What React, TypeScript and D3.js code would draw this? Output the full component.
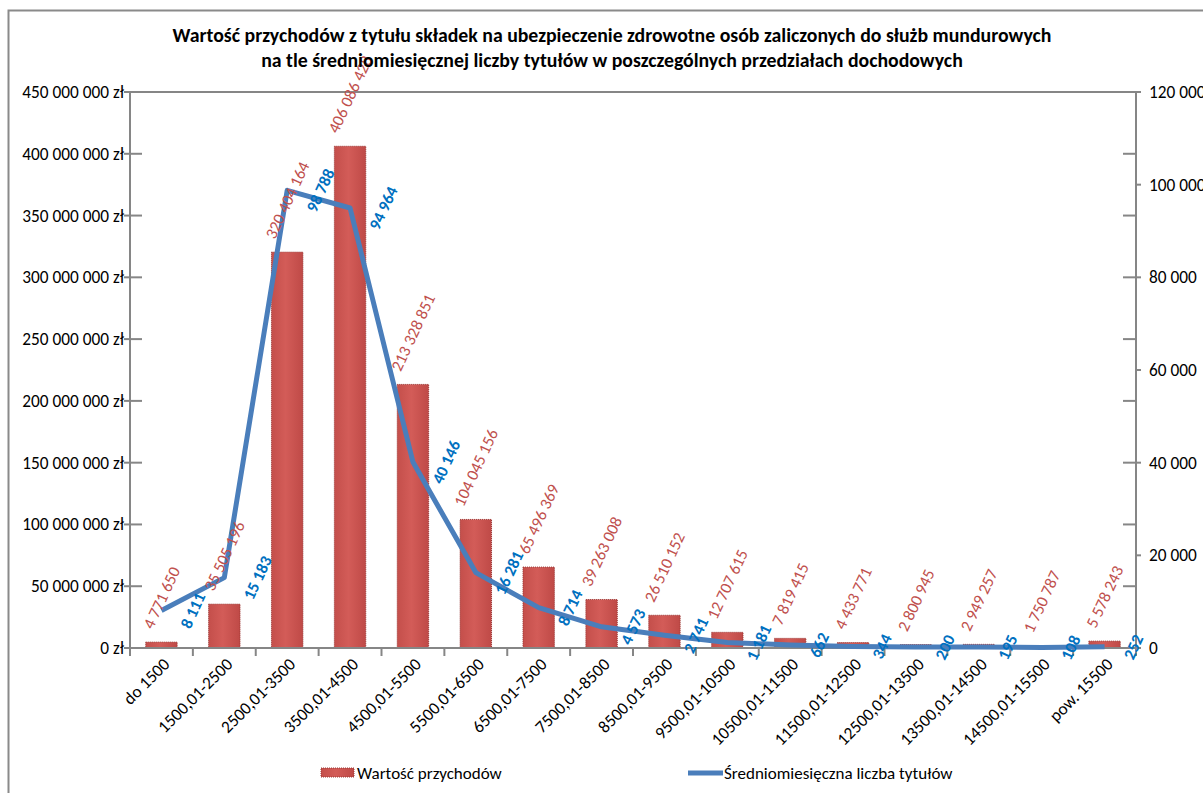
import React, { useEffect, useRef } from "react";
import * as d3 from "d3";

const categories = [
  "do 1500", "1500,01-2500", "2500,01-3500", "3500,01-4500", "4500,01-5500",
  "5500,01-6500", "6500,01-7500", "7500,01-8500", "8500,01-9500", "9500,01-10500",
  "10500,01-11500", "11500,01-12500", "12500,01-13500", "13500,01-14500",
  "14500,01-15500", "pow. 15500",
];
const revenue = [
  4771650, 35505196, 320404164, 406086428, 213328851, 104045156, 65496369,
  39263008, 26510152, 12707615, 7819415, 4433771, 2800945, 2949257, 1750787, 5578243,
];
const titles = [
  8111, 15183, 98788, 94964, 40146, 16281, 8714, 4573, 2741, 1181, 662, 344, 200, 195, 108, 252,
];
const leftTicks = [0, 50e6, 100e6, 150e6, 200e6, 250e6, 300e6, 350e6, 400e6, 450e6];
const rightTicks = [0, 20000, 40000, 60000, 80000, 100000, 120000];
const titleLines = [
  "Wartość przychodów z tytułu składek na ubezpieczenie zdrowotne osób zaliczonych do służb mundurowych",
  "na tle średniomiesięcznej liczby tytułów w poszczególnych przedziałach dochodowych",
];
const legendLabels = ["Wartość przychodów", "Średniomiesięczna liczba tytułów"];

const FONT = "Carlito, Calibri, Lato, sans-serif";
const fmtSp = (v: number) => d3.format(",")(v).replace(/,/g, " ");

export default function App() {
  const ref = useRef<SVGSVGElement>(null);

  useEffect(() => {
    const svg = d3.select(ref.current);
    svg.selectAll("*").remove();
    const W = 1203, H = 793;
    const L = 130, R = 1136, T = 92, B = 648;
    const yL = d3.scaleLinear().domain([0, 450e6]).range([B, T]);
    const yR = d3.scaleLinear().domain([0, 120000]).range([B, T]);
    const x = d3.scaleBand<string>().domain(categories).range([L, R]).padding(0);
    const bw = x.bandwidth() * 0.5;
    const cx = (c: string) => (x(c) as number) + x.bandwidth() / 2;
    const axisCol = "#868686";
    const axFs = 17.3;

    svg.append("rect").attr("x", 0).attr("y", 0).attr("width", W).attr("height", H).attr("fill", "#fff");
    svg.append("rect").attr("x", 8.5).attr("y", 10.5).attr("width", 1300).attr("height", 900)
      .attr("fill", "#fff").attr("stroke", "#8a8a8a").attr("stroke-width", 2);

    const defs = svg.append("defs");
    const g = defs.append("linearGradient").attr("id", "barGrad").attr("x1", 0).attr("x2", 1).attr("y1", 0).attr("y2", 0);
    g.append("stop").attr("offset", "0%").attr("stop-color", "#c44f4b");
    g.append("stop").attr("offset", "45%").attr("stop-color", "#d35c58");
    g.append("stop").attr("offset", "100%").attr("stop-color", "#bf4a47");

    svg.append("line").attr("x1", L).attr("x2", R).attr("y1", T).attr("y2", T).attr("stroke", axisCol).attr("stroke-width", 2);
    svg.append("line").attr("x1", L).attr("x2", L).attr("y1", T).attr("y2", B).attr("stroke", axisCol).attr("stroke-width", 2);
    svg.append("line").attr("x1", R).attr("x2", R).attr("y1", T).attr("y2", B).attr("stroke", axisCol).attr("stroke-width", 2);

    leftTicks.forEach((v) => {
      svg.append("line").attr("x1", L - 6).attr("x2", L + 12).attr("y1", yL(v)).attr("y2", yL(v))
        .attr("stroke", axisCol).attr("stroke-width", 2);
      svg.append("line").attr("x1", R - 13).attr("x2", R).attr("y1", yL(v)).attr("y2", yL(v))
        .attr("stroke", axisCol).attr("stroke-width", 2);
      svg.append("text").attr("x", L - 6).attr("y", yL(v)).attr("dy", "0.35em").attr("text-anchor", "end")
        .attr("font-family", FONT).attr("font-size", axFs).attr("fill", "#000").text(fmtSp(v) + " zł");
    });
    rightTicks.forEach((v) => {
      svg.append("line").attr("x1", R).attr("x2", R + 5).attr("y1", yR(v)).attr("y2", yR(v))
        .attr("stroke", axisCol).attr("stroke-width", 2);
      svg.append("text").attr("x", R + 13).attr("y", yR(v)).attr("dy", "0.35em").attr("text-anchor", "start")
        .attr("font-family", FONT).attr("font-size", axFs).attr("fill", "#000").text(fmtSp(v));
    });

    categories.forEach((c, i) => {
      const top = yL(revenue[i]);
      svg.append("rect").attr("x", cx(c) - bw / 2).attr("y", top).attr("width", bw).attr("height", B - top)
        .attr("fill", "url(#barGrad)").attr("stroke", "#9c3835").attr("stroke-width", 1)
        .attr("stroke-dasharray", "1,1");
    });

    svg.append("line").attr("x1", L - 6).attr("x2", R).attr("y1", B).attr("y2", B).attr("stroke", axisCol).attr("stroke-width", 2);
    d3.range(categories.length + 1).forEach((i) => {
      const xx = L + i * x.bandwidth();
      svg.append("line").attr("x1", xx).attr("x2", xx).attr("y1", B).attr("y2", B + 8).attr("stroke", axisCol).attr("stroke-width", 2);
    });
    categories.forEach((c) => {
      svg.append("text").attr("transform", `translate(${cx(c) + 5},${B + 13}) rotate(-45)`)
        .attr("text-anchor", "end").attr("dy", "0.35em")
        .attr("font-family", FONT).attr("font-size", axFs).attr("fill", "#000").text(c);
    });

    const line = d3.line<number>().x((_, i) => cx(categories[i])).y((d) => yR(d));
    svg.append("path").attr("d", line(titles) as string).attr("fill", "none").attr("stroke", "#4a7ebb")
      .attr("stroke-width", 5).attr("stroke-linejoin", "round").attr("stroke-linecap", "butt");

    const ang = 65;
    const rad = (ang * Math.PI) / 180;
    const fs = 16.5;
    const lab = svg.append("g");
    categories.forEach((c, i) => {
      const t = lab.append("text").attr("text-anchor", "middle").attr("dy", "0.35em")
        .attr("font-family", FONT).attr("font-size", fs).attr("fill", "#c0504d").text(fmtSp(revenue[i]));
      const w = (t.node() as SVGTextElement).getComputedTextLength();
      const bh = w * Math.sin(rad) + fs * Math.cos(rad);
      const px = cx(c), py = yL(revenue[i]) - 11 - bh / 2;
      t.attr("transform", `translate(${px},${py}) rotate(${-ang})`);

      const t2 = lab.append("text").attr("text-anchor", "middle").attr("dy", "0.35em")
        .attr("font-family", FONT).attr("font-size", fs).attr("font-weight", "bold").attr("fill", "#0070c0")
        .text(fmtSp(titles[i]));
      const w2 = (t2.node() as SVGTextElement).getComputedTextLength();
      const bwid = w2 * Math.cos(rad) + fs * Math.sin(rad);
      t2.attr("transform", `translate(${cx(c) + 16 + bwid / 2},${yR(titles[i])}) rotate(${-ang})`);
    });

    titleLines.forEach((s, i) => {
      svg.append("text").attr("x", 612).attr("y", 42 + i * 25).attr("text-anchor", "middle")
        .attr("font-family", FONT).attr("font-size", 19.8).attr("font-weight", "bold").attr("fill", "#000").text(s);
    });

    svg.append("rect").attr("x", 321).attr("y", 768).attr("width", 33).attr("height", 9)
      .attr("fill", "url(#barGrad)").attr("stroke", "#9c3835").attr("stroke-dasharray", "1,1");
    svg.append("text").attr("x", 357).attr("y", 773).attr("dy", "0.35em").attr("font-family", FONT)
      .attr("font-size", 17).attr("fill", "#000").text(legendLabels[0]);
    svg.append("line").attr("x1", 688).attr("x2", 723).attr("y1", 773).attr("y2", 773)
      .attr("stroke", "#4a7ebb").attr("stroke-width", 5);
    svg.append("text").attr("x", 724).attr("y", 773).attr("dy", "0.35em").attr("font-family", FONT)
      .attr("font-size", 17).attr("fill", "#000").text(legendLabels[1]);
  }, []);

  return (
    <svg ref={ref} width={1203} height={793}
      style={{ position: "absolute", left: 0, top: 0, display: "block" }} />
  );
}
